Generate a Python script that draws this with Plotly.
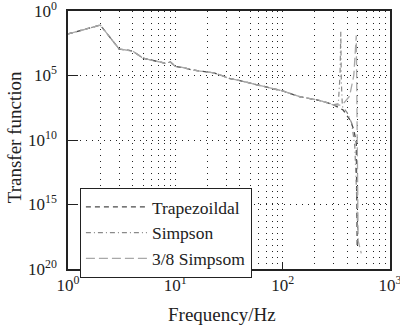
import plotly.graph_objects as go

# ---- data ----
freq_common = [1, 2, 3, 4, 5, 6, 7, 8, 9, 10, 12, 14, 17, 20, 23, 27, 31, 40, 50, 70, 100, 146, 212, 265]
tf_common = [1.66e-2, 8.1e-2, 1.12e-3, 7.9e-4, 2.2e-4, 1.6e-4, 1.1e-4, 9e-5, 1.1e-4, 5e-5,
             4e-5, 2.8e-5, 2.2e-5, 1.9e-5, 1.6e-5, 1.0e-5, 6.3e-6, 4.0e-6, 2.5e-6, 1.26e-6,
             6.3e-7, 2.2e-7, 1.26e-7, 7.4e-8]

freq_trap_tail = [302, 366, 425, 460, 485, 495]
tf_trap_tail = [5e-8, 2.1e-8, 3.5e-9, 6.3e-10, 6.3e-11, 5e-19]

freq_simp_tail = [300, 330, 342, 348, 352, 360, 400, 440, 470, 485, 500]
tf_simp_tail = [5.6e-8, 6.3e-8, 1e-5, 2.5e-2, 3.2e-6, 4e-8, 1.26e-8, 2e-9, 3.2e-11, 3.2e-14, 1e-17]

freq_38_tail = [300, 340, 366, 420, 460, 485, 492, 498, 505, 540]
tf_38_tail = [5e-8, 5e-8, 6.3e-8, 2.5e-7, 1e-5, 1.26e-2, 1e-6, 1e-12, 1.6e-18, 1.6e-19]

series_names = ["Trapezoildal", "Simpson", "3/8 Simpsom"]

x_tickvals = [1, 10, 100, 1000]
x_ticktext = ["10<sup>0</sup>", "10<sup>1</sup>", "10<sup>2</sup>", "10<sup>3</sup>"]
x_minor = [2, 3, 4, 5, 6, 7, 8, 9, 20, 30, 40, 50, 60, 70, 80, 90, 200, 300, 400, 500, 600, 700, 800, 900]
y_tickvals = [1, 1e-5, 1e-10, 1e-15, 1e-20]
y_ticktext = ["10<sup>0</sup>", "10<sup>5</sup>", "10<sup>10</sup>", "10<sup>15</sup>", "10<sup>20</sup>"]
x_title = "Frequency/Hz"
y_title = "Transfer function"

FONT = "Liberation Serif"

fig = go.Figure()
styles = [
    dict(color="#4a4a4a", width=1.3, dash="5px,4px"),
    dict(color="#8a8a8a", width=1.2, dash="5px,3px,1px,3px"),
    dict(color="#a8a8a8", width=1.3, dash="9px,4px"),
]
tails = [(freq_trap_tail, tf_trap_tail), (freq_simp_tail, tf_simp_tail), (freq_38_tail, tf_38_tail)]
for name, (fx, fy), st in zip(series_names, tails, styles):
    fig.add_trace(go.Scatter(x=freq_common + fx, y=tf_common + fy, mode="lines",
                             name=name, line=st))

grid_dash = "1px,5px"
fig.update_layout(
    width=400, height=329,
    margin=dict(l=68, r=10, t=11, b=60),
    paper_bgcolor="white", plot_bgcolor="white",
    font=dict(family=FONT, size=16, color="#222"),
    showlegend=True,
    legend=dict(x=0.037, y=0.314, xanchor="left", yanchor="top",
                bgcolor="white", bordercolor="#222", borderwidth=1,
                font=dict(family=FONT, size=17.5, color="#222"),
                itemwidth=61, tracegroupgap=0),
    xaxis=dict(type="log", range=[0, 3], automargin=False,
               tickvals=x_tickvals, ticktext=x_ticktext, ticklabeloverflow="allow",
               ticks="inside", ticklen=7, tickcolor="#222",
               showline=True, linecolor="#222", linewidth=1.5, mirror=True,
               showgrid=True, gridcolor="#222", gridwidth=1, griddash=grid_dash,
               minor=dict(tickvals=x_minor, showgrid=True, gridcolor="#222",
                          griddash=grid_dash, gridwidth=1, ticks=""),
               zeroline=False,
               tickfont=dict(family=FONT, size=17)),
    yaxis=dict(type="log", range=[-20, 0], automargin=False,
               tickvals=y_tickvals, ticktext=y_ticktext, ticklabeloverflow="allow",
               ticklabelstandoff=6,
               ticks="inside", ticklen=10, tickcolor="#222",
               showline=True, linecolor="#222", linewidth=1.5, mirror=True,
               showgrid=True, gridcolor="#222", gridwidth=1, griddash=grid_dash,
               zeroline=False,
               tickfont=dict(family=FONT, size=17)),
    annotations=[
        dict(text=x_title, xref="paper", yref="paper", x=0.478, y=-0.178,
             xanchor="center", yanchor="middle", showarrow=False,
             font=dict(family=FONT, size=19, color="#222")),
        dict(text=y_title, xref="paper", yref="paper", x=-0.165, y=0.51,
             xanchor="center", yanchor="middle", showarrow=False, textangle=-90,
             font=dict(family=FONT, size=19, color="#222")),
    ],
)

fig.write_html("out.html", config={"displayModeBar": False},
               post_script="document.body.style.margin='0px';document.body.style.overflow='hidden';")
